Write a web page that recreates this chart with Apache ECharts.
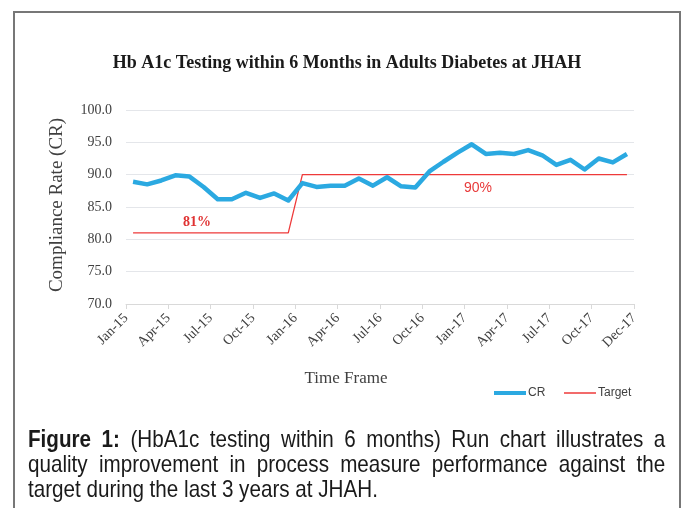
<!DOCTYPE html>
<html>
<head>
<meta charset="utf-8">
<script src="https://cdn.jsdelivr.net/npm/echarts@6/dist/echarts.min.js"></script>
<style>
  html, body { margin: 0; padding: 0; background: #fff; }
  #wrap { position: relative; width: 685px; height: 508px; overflow: hidden; }
  #chart { position: absolute; left: 0; top: 0; width: 685px; height: 508px; }
  #caption { position: absolute; left: 28px; top: 426px; width: 741px;
    transform: scaleX(0.86); transform-origin: 0 0;
    font-family: "Liberation Sans", Arial, sans-serif; font-size: 24px; line-height: 25px; color: #1a1a1a; }
  #caption .j { text-align: justify; text-align-last: justify; white-space: nowrap; }
  #caption .l { white-space: nowrap; }
</style>
</head>
<body>
<div id="wrap">
  <div id="chart"></div>
  <div id="caption">
    <div class="j"><b>Figure 1:</b> (HbA1c testing within 6 months) Run chart illustrates a</div>
    <div class="j">quality improvement in process measure performance against the</div>
    <div class="l">target during the last 3 years at JHAH.</div>
  </div>
</div>
<script>
const months = [
  'Jan-15','Feb-15','Mar-15','Apr-15','May-15','Jun-15','Jul-15','Aug-15','Sep-15','Oct-15','Nov-15','Dec-15',
  'Jan-16','Feb-16','Mar-16','Apr-16','May-16','Jun-16','Jul-16','Aug-16','Sep-16','Oct-16','Nov-16','Dec-16',
  'Jan-17','Feb-17','Mar-17','Apr-17','May-17','Jun-17','Jul-17','Aug-17','Sep-17','Oct-17','Nov-17','Dec-17'
];
const crValues = [
  88.9, 88.5, 89.1, 89.9, 89.7, 88.1, 86.2, 86.2, 87.2, 86.4, 87.1, 86.0,
  88.7, 88.1, 88.3, 88.3, 89.4, 88.3, 89.6, 88.2, 88.0, 90.5, 92.0, 93.4,
  94.7, 93.2, 93.4, 93.2, 93.8, 93.0, 91.5, 92.3, 90.8, 92.5, 91.9, 93.2
];
const targetValues = [
  81, 81, 81, 81, 81, 81, 81, 81, 81, 81, 81, 81,
  90, 90, 90, 90, 90, 90, 90, 90, 90, 90, 90, 90,
  90, 90, 90, 90, 90, 90, 90, 90, 90, 90, 90, 90
];
const tickLabels = ['Jan-15','Apr-15','Jul-15','Oct-15','Jan-16','Apr-16','Jul-16','Oct-16','Jan-17','Apr-17','Jul-17','Oct-17','Dec-17'];
const yTicks = [70, 75, 80, 85, 90, 95, 100];

// boundary axis: one slot per month boundary (months.length + 1)
const boundaryKeys = [];
for (let i = 0; i <= months.length; i++) boundaryKeys.push('b' + i);
function boundaryLabel(i) {
  if (i === months.length) return tickLabels[tickLabels.length - 1];
  if (i % 3 === 0) return tickLabels[i / 3] || '';
  return '';
}
function showBoundary(i) { return i % 3 === 0 || i === months.length; }

const serif = '"Liberation Serif", "Times New Roman", serif';
const chart = echarts.init(document.getElementById('chart'), null, { renderer: 'canvas' });
chart.setOption({
  animation: false,
  backgroundColor: '#ffffff',
  grid: { left: 126, right: 51, top: 110, bottom: 204, containLabel: false },
  legend: {
    left: 487, top: 382,
    itemWidth: 32, itemHeight: 14, itemGap: 18,
    itemStyle: { opacity: 0 },
    textStyle: { fontFamily: '"Liberation Sans", Arial, sans-serif', fontSize: 12, color: '#404040', padding: [0, 0, 0, -3] },
    data: [
      { name: 'CR', lineStyle: { width: 4, color: '#2ba9e1' } },
      { name: 'Target', lineStyle: { width: 1.3, color: '#ee3a3a' } }
    ]
  },
  xAxis: [
    {
      type: 'category', data: months, boundaryGap: true, position: 'bottom',
      axisLine: { show: true, lineStyle: { color: '#d9d9d9', width: 1 } },
      axisTick: { show: false }, axisLabel: { show: false }, splitLine: { show: false }
    },
    {
      type: 'category', data: boundaryKeys, boundaryGap: false, position: 'bottom',
      axisLine: { show: false },
      axisTick: { show: true, length: 5, interval: function (i) { return showBoundary(i); }, lineStyle: { color: '#d9d9d9' } },
      axisLabel: {
        show: true, rotate: 45, margin: 12,
        interval: function (i) { return showBoundary(i); },
        formatter: function (v, i) { return boundaryLabel(i); },
        fontFamily: serif, fontSize: 14, color: '#404040'
      },
      splitLine: { show: false }
    }
  ],
  yAxis: {
    type: 'value', min: yTicks[0], max: yTicks[yTicks.length - 1], interval: 5,
    axisLine: { show: false }, axisTick: { show: false },
    axisLabel: { formatter: function (v) { return v.toFixed(1); }, fontFamily: serif, fontSize: 14, color: '#404040', margin: 14 },
    splitLine: { lineStyle: { color: '#e4e6ea', width: 1 } }
  },
  series: [
    {
      name: 'CR', type: 'line', xAxisIndex: 0, data: crValues,
      showSymbol: false, symbol: 'none',
      lineStyle: { color: '#2ba9e1', width: 4.5, join: 'round' },
      itemStyle: { color: '#2ba9e1' }, z: 3
    },
    {
      name: 'Target', type: 'line', xAxisIndex: 0, data: targetValues,
      showSymbol: false, symbol: 'none',
      lineStyle: { color: '#ee3a3a', width: 1.3 },
      itemStyle: { color: '#ee3a3a' }, z: 2
    }
  ],
  graphic: [
    { type: 'rect', shape: { x: 14, y: 12, width: 666, height: 600 }, style: { fill: 'none', stroke: '#777777', lineWidth: 2 }, silent: true },
    { type: 'text', x: 347, y: 63, style: { text: 'Hb A1c Testing within 6 Months in Adults Diabetes at JHAH', font: 'bold 18px ' + serif, fill: '#1a1a1a', align: 'center', verticalAlign: 'middle' } },
    { type: 'text', x: 57, y: 205, rotation: Math.PI / 2, style: { text: 'Compliance Rate (CR)', font: '19px ' + serif, fill: '#404040', align: 'center', verticalAlign: 'middle' } },
    { type: 'text', x: 346, y: 379, style: { text: 'Time Frame', font: '17px ' + serif, fill: '#404040', align: 'center', verticalAlign: 'middle' } },
    { type: 'text', x: 197, y: 222, style: { text: '81%', font: 'bold 14px ' + serif, fill: '#e03232', align: 'center', verticalAlign: 'middle' } },
    { type: 'text', x: 478, y: 188, style: { text: '90%', font: '14px "Liberation Sans", sans-serif', fill: '#e83a3a', align: 'center', verticalAlign: 'middle' } }
  ]
});
</script>
</body>
</html>
